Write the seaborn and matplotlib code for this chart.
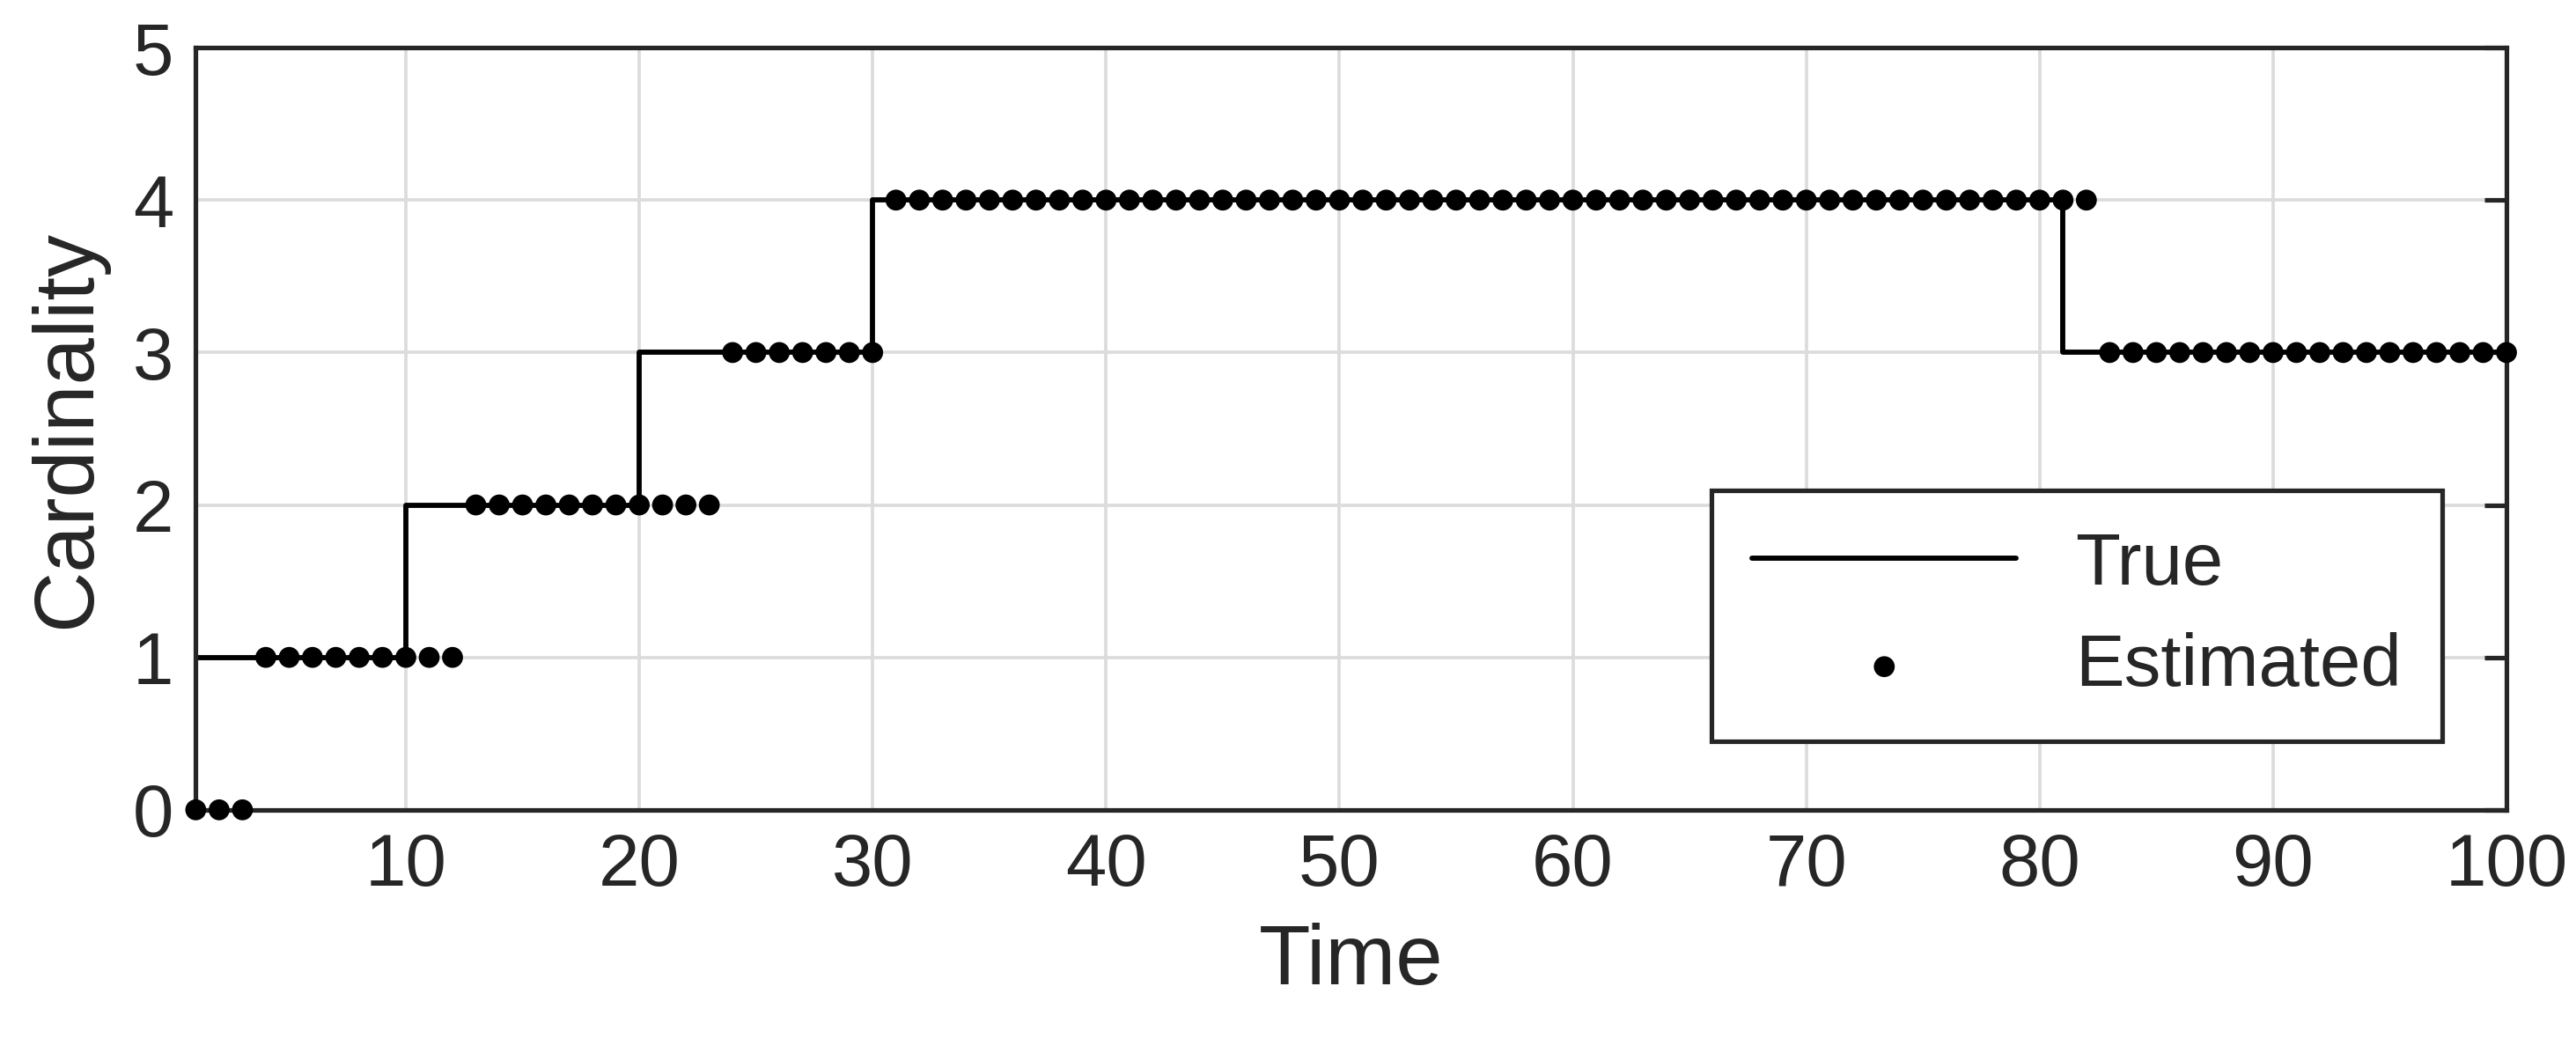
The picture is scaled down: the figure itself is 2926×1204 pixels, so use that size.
import matplotlib
matplotlib.use("Agg")
import matplotlib.pyplot as plt
import seaborn as sns
import numpy as np

# True cardinality (step changes) and estimated per time step
true_t = [1, 10, 20, 30, 81, 100]
true_n = [1, 2, 3, 4, 3, 3]

est_t = np.arange(1, 101)
est_n = np.array([0] * 3 + [1] * 9 + [2] * 11 + [3] * 7 + [4] * 52 + [3] * 18)

sns.set_style("white")
plt.rcParams["font.family"] = ["Liberation Sans", "DejaVu Sans"]

fig = plt.figure(figsize=(19.507, 8.027), dpi=150)
ax = fig.add_axes([0.076, 0.236, 0.897, 0.719])

sns.lineplot(x=true_t, y=true_n, drawstyle="steps-post", color="black",
             linewidth=2.8, ax=ax, label="True")
sns.scatterplot(x=est_t, y=est_n, color="black", s=130, edgecolor="none",
                ax=ax, label="Estimated", zorder=3, clip_on=False)

ax.set_xlim(1, 100)
ax.set_ylim(0, 5)
ax.set_xticks(range(10, 101, 10))
ax.set_yticks(range(0, 6))
ax.grid(True, color="#dcdcdc", linewidth=1.8)
ax.tick_params(direction="in", length=12, width=2.5, labelsize=40,
               top=False, right=True, colors="#262626", pad=12)
for s in ax.spines.values():
    s.set_linewidth(2.5)
    s.set_color("#262626")
ax.set_xlabel("Time", fontsize=46, color="#262626", labelpad=12)
ax.set_ylabel("Cardinality", fontsize=46, color="#262626", labelpad=14)

leg = ax.legend(loc="lower right", bbox_to_anchor=(0.972, 0.09, 0.0, 0.0),
                fontsize=40, frameon=True, fancybox=False, handlelength=3.6,
                borderpad=0.55, labelspacing=0.45, markerscale=1.0,
                borderaxespad=0)
leg.get_frame().set_edgecolor("#262626")
leg.get_frame().set_linewidth(2.5)
leg.get_frame().set_alpha(1)

fig.savefig("out.png", dpi=150)
